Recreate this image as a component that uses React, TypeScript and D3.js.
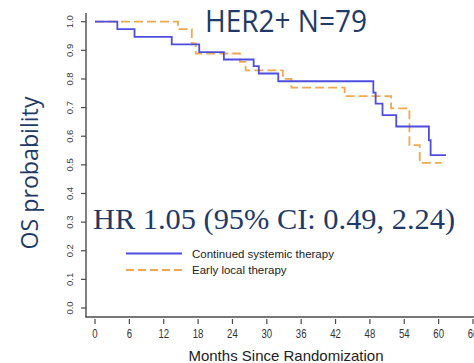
import React from "react";
import * as d3 from "d3";

// Kaplan–Meier overall survival, HER2+ subgroup
const monthTicks = [0, 6, 12, 18, 24, 30, 36, 42, 48, 54, 60, 66];
const probTicks = [0, 0.1, 0.2, 0.3, 0.4, 0.5, 0.6, 0.7, 0.8, 0.9, 1.0];

// Continued systemic therapy: event times (months) and survival after each step
const contTimes = [0, 3.9, 6.9, 13.4, 18.2, 22.5, 27.7, 28.6, 32.0, 48.6, 49.0, 50.2, 52.6, 58.3, 58.6, 61.3];
const contSurv = [1, 0.974, 0.947, 0.921, 0.894, 0.868, 0.845, 0.819, 0.792, 0.752, 0.714, 0.674, 0.634, 0.586, 0.534, 0.534];

// Early local therapy
const earlyTimes = [0, 14.5, 16.9, 17.6, 25.3, 26.3, 32.8, 34.3, 43.6, 51.7, 54.9, 56.7, 60.5];
const earlySurv = [1, 0.974, 0.924, 0.889, 0.86, 0.83, 0.8, 0.77, 0.74, 0.697, 0.569, 0.507, 0.507];

const seriesNames = ["Continued systemic therapy", "Early local therapy"];
const titleText = "HER2+ N=79";
const hrText = "HR 1.05 (95% CI: 0.49, 2.24)";

const BLUE = "#4d4de0";
const ORANGE = "#f0a850";
const NAVY = "#1f3a68";
const AXIS = "#4a4a4a";

export default function App() {
  const W = 474;
  const H = 363;
  const x = d3.scaleLinear().domain([0, 66]).range([95, 473]);
  const y = d3.scaleLinear().domain([0, 1]).range([308, 21.7]);

  const step = d3
    .line<[number, number]>()
    .x((d) => x(d[0]))
    .y((d) => y(d[1]))
    .curve(d3.curveStepAfter);

  const contPath = step(contTimes.map((t, i) => [t, contSurv[i]] as [number, number])) || "";
  const earlyPath = step(earlyTimes.map((t, i) => [t, earlySurv[i]] as [number, number])) || "";

  const axisY = 86;
  const baseY = 317;

  return (
    <svg
      width={W}
      height={H}
      style={{ position: "absolute", left: 0, top: 0, background: "#fff" }}
    >
      {/* axes frame */}
      <line x1={axisY} y1={13} x2={axisY} y2={baseY} stroke={AXIS} strokeWidth={1.4} />
      <line x1={axisY - 0.7} y1={baseY} x2={W} y2={baseY} stroke={AXIS} strokeWidth={1.4} />

      {/* y ticks */}
      {probTicks.map((p) => (
        <g key={"y" + p}>
          <line x1={axisY - 5} x2={axisY} y1={y(p)} y2={y(p)} stroke={AXIS} strokeWidth={1.2} />
          <text
            transform={`translate(${73},${y(p)}) rotate(-90)`}
            textAnchor="middle"
            fontFamily="Liberation Sans, Arial, sans-serif"
            fontSize={9.5}
            fill="#3a3a3a"
          >
            {p.toFixed(1)}
          </text>
        </g>
      ))}

      {/* x ticks */}
      {monthTicks.map((m) => (
        <g key={"x" + m}>
          <line x1={x(m)} x2={x(m)} y1={319} y2={324} stroke={AXIS} strokeWidth={1.2} />
          <text
            transform={`translate(${x(m)},${338}) scale(0.8,1)`}
            textAnchor="middle"
            fontFamily="Liberation Sans, Arial, sans-serif"
            fontSize={12}
            fill="#333"
          >
            {m}
          </text>
        </g>
      ))}

      {/* axis titles */}
      <text
        x={286}
        y={361}
        textAnchor="middle"
        fontFamily="Liberation Sans, Arial, sans-serif"
        fontSize={15}
        fill="#222"
      >
        Months Since Randomization
      </text>
      <text
        transform={`translate(${38},${173}) rotate(-90)`}
        textAnchor="middle"
        fontFamily="Open Sans, sans-serif"
        fontSize={23}
        fill={NAVY}
        textLength={153}
        lengthAdjust="spacingAndGlyphs"
      >
        OS probability
      </text>

      {/* survival curves */}
      <path d={earlyPath} fill="none" stroke={ORANGE} strokeWidth={1.8} strokeDasharray="9,4" />
      <path d={contPath} fill="none" stroke={BLUE} strokeWidth={1.8} />

      {/* title */}
      <text
        x={205}
        y={32}
        fontFamily="Open Sans, sans-serif"
        fontSize={31}
        fill={NAVY}
        textLength={162}
        lengthAdjust="spacingAndGlyphs"
      >
        {titleText}
      </text>

      {/* hazard ratio */}
      <text
        x={93}
        y={229}
        fontFamily="Liberation Serif, Times New Roman, serif"
        fontSize={30}
        fill={NAVY}
        textLength={362}
        lengthAdjust="spacingAndGlyphs"
      >
        {hrText}
      </text>

      {/* legend */}
      <line x1={126} x2={182} y1={253.5} y2={253.5} stroke={BLUE} strokeWidth={2} />
      <line x1={126} x2={182} y1={270} y2={270} stroke={ORANGE} strokeWidth={2} strokeDasharray="8,4" />
      <text x={192} y={257.5} fontFamily="Liberation Sans, Arial, sans-serif" fontSize={11.5} fill="#222">
        {seriesNames[0]}
      </text>
      <text x={192} y={274} fontFamily="Liberation Sans, Arial, sans-serif" fontSize={11.5} fill="#222">
        {seriesNames[1]}
      </text>
    </svg>
  );
}
